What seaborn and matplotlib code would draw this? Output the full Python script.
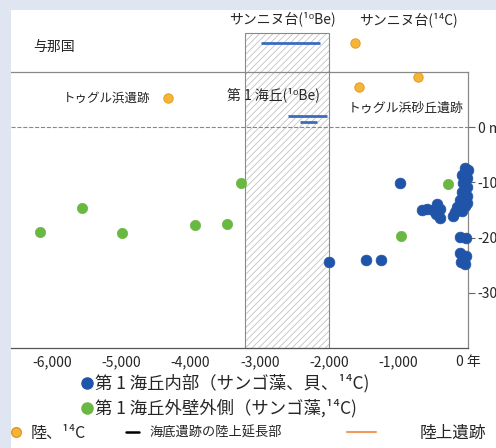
import numpy as np
import pandas as pd
import matplotlib
matplotlib.use("Agg")
import matplotlib.pyplot as plt
from matplotlib.patches import Rectangle
from matplotlib.lines import Line2D
import seaborn as sns

# data (years BP as negative, elevation in m)
blue_x = [-980, -2000, -1470, -1250, -660, -590, -500, -450, -400, -460, -400,
          -40, 0, -90, -10, -70, -15, -90, -15, -115, -10, -160, -45, -190, -85, -215,
          -115, -30, -115, -30, -100, -45]
blue_y = [-10.1, -24.5, -24.0, -24.0, -15.0, -14.9, -15.0, -13.9, -14.9, -15.8, -16.5,
          -7.4, -7.8, -8.7, -9.2, -10.1, -10.9, -11.8, -12.5, -13.2, -13.8, -14.5, -14.3, -15.4, -15.2, -16.1,
          -19.9, -20.1, -22.8, -23.4, -24.5, -24.8]
green_x = [-6170, -5570, -4990, -3930, -3470, -3280, -960, -290]
green_y = [-19.0, -14.7, -19.2, -17.8, -17.6, -10.1, -19.8, -10.2]
orange_x = [-4330, -1630, -1570, -720]
orange_y = [5.3, 15.2, 7.2, 9.1]
be_start = [-2590, -2420, -2990]
be_end = [-2030, -2180, -2140]
be_y = [2.0, 0.9, 15.2]
hatch_x = [-3220, -2010]
hatch_y = [-40, 17]

xticks = [-6000, -5000, -4000, -3000, -2000, -1000, 0]
xticklabels = ["-6,000", "-5,000", "-4,000", "-3,000", "-2,000", "-1,000", "0 年"]
yticks = [0, -10, -20, -30]
yticklabels = ["0 m", "-10", "-20", "-30"]

blue = "#2054a8"
green = "#69b842"
orange = "#f6b536"

sns.set_style("white")
plt.rcParams['font.family'] = ['Noto Sans CJK JP', 'DejaVu Sans']
plt.rcParams['hatch.linewidth'] = 0.6

fig = plt.figure(figsize=(4.96, 4.48), dpi=100, facecolor="#dfe6f2")
fig.patches.append(Rectangle((11/496, 0), 1, 438/448, transform=fig.transFigure,
                             facecolor="white", edgecolor="none", zorder=-5))
ax = fig.add_axes([11/496, 100/448, 457/496, 276/448])
ax.set_zorder(2)
ax.patch.set_alpha(0)

# hatched band: light hatch + darker outline
w = hatch_x[1] - hatch_x[0]
h = hatch_y[1] - hatch_y[0]
ax.add_patch(Rectangle((hatch_x[0], hatch_y[0]), w, h, facecolor="white", edgecolor="#c2c2c2",
                       hatch="/////", lw=0, clip_on=False, zorder=1))
ax.add_patch(Rectangle((hatch_x[0], hatch_y[0]), w, h, facecolor="none", edgecolor="#8a8a8a",
                       lw=0.8, clip_on=False, zorder=1))
ax.axhline(0, color="#888888", ls="--", lw=0.8, zorder=1)

ax.hlines(be_y, be_start, be_end, colors="#3a6cc0", lw=2, clip_on=False, zorder=3)

df_b = pd.DataFrame({"x": blue_x, "y": blue_y})
df_g = pd.DataFrame({"x": green_x, "y": green_y})
df_o = pd.DataFrame({"x": orange_x, "y": orange_y})
sns.scatterplot(data=df_b, x="x", y="y", color=blue, s=60, edgecolor=blue, linewidth=0.5, ax=ax, zorder=4)
sns.scatterplot(data=df_g, x="x", y="y", color=green, s=55, edgecolor=green, linewidth=0.5, ax=ax, zorder=4)
sns.scatterplot(data=df_o, x="x", y="y", color=orange, s=45, edgecolor="#e39a1c", linewidth=0.7, ax=ax, zorder=4)
for c in ax.collections:
    c.set_clip_on(False)

ax.set_xlim(-6590, 0)
ax.set_ylim(-40, 10)
ax.set_xlabel("")
ax.set_ylabel("")
ax.set_xticks(xticks)
ax.set_xticklabels(xticklabels, fontsize=10)
ax.yaxis.tick_right()
ax.set_yticks(yticks)
ax.set_yticklabels(yticklabels, fontsize=10)
ax.tick_params(axis="x", direction="in", length=10, color="#666666", pad=5)
ax.tick_params(axis="y", direction="out", length=5, color="#666666", pad=2)
ax.spines["left"].set_visible(False)
for s in ["top", "right", "bottom"]:
    ax.spines[s].set_color("#888888")
    ax.spines[s].set_linewidth(0.9)
ax.spines["bottom"].set_color("#555555")

kw = dict(clip_on=False, va="center")
ax.text(-6273, 14.5, "与那国", ha="left", fontsize=10, **kw)
ax.text(-2676, 19.7, "サンニヌ台(¹⁰Be)", ha="center", fontsize=10, **kw)
ax.text(-863, 19.4, "サンニヌ台(¹⁴C)", ha="center", fontsize=10, **kw)
ax.text(-5842, 5.3, "トゥグル浜遺跡", ha="left", fontsize=9, **kw)
ax.text(-2806, 5.8, "第 1 海丘(¹⁰Be)", ha="center", fontsize=10, **kw)
ax.text(-906, 3.4, "トゥグル浜砂丘遺跡", ha="center", fontsize=9.3, **kw)

leg = dict(frameon=False, borderaxespad=0, borderpad=0, loc="center left")
h1 = [Line2D([], [], ls="none", marker="o", color=blue, markersize=8),
      Line2D([], [], ls="none", marker="o", color=green, markersize=8)]
fig.legend(h1, ["第 1 海丘内部（サンゴ藻、貝、¹⁴C)", "第 1 海丘外壁外側（サンゴ藻,¹⁴C)"],
           bbox_to_anchor=(80/496, 1-396/448), fontsize=12.5, handlelength=0.75,
           handletextpad=0.1, labelspacing=0.38, **leg)
fig.legend([Line2D([], [], ls="none", marker="o", color=orange, markeredgecolor="#e39a1c", markersize=7)],
           ["陸、¹⁴C"], bbox_to_anchor=(10/496, 1-433/448), fontsize=11.5,
           handlelength=0.8, handletextpad=0.5, **leg)
fig.legend([Line2D([], [], color="black", lw=1.8)], ["海底遺跡の陸上延長部"],
           bbox_to_anchor=(126/496, 1-433/448), fontsize=9.5,
           handlelength=1.0, handletextpad=0.8, **leg)
fig.legend([Line2D([], [], color="#f29a5a", lw=1.5)], ["陸上遺跡"],
           bbox_to_anchor=(347/496, 1-433/448), fontsize=12,
           handlelength=1.75, handletextpad=2.6, **leg)

fig.savefig("out.png", dpi=100, facecolor=fig.get_facecolor())
